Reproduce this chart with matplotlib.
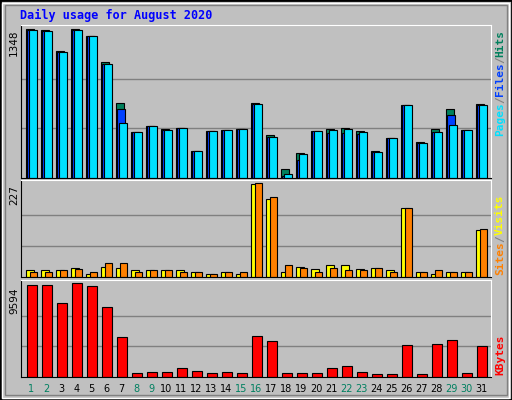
import matplotlib
matplotlib.use("Agg")
import matplotlib.pyplot as plt
from matplotlib.patches import Rectangle
import numpy as np

days = list(range(1, 32))
weekend = [1, 2, 8, 9, 15, 16, 22, 23, 29, 30]
hits = [1348, 1339, 1155, 1348, 1284, 1055, 679, 413, 468, 444, 450, 248, 422, 431, 440, 679, 394, 82, 229, 422, 444, 450, 422, 248, 367, 661, 330, 444, 624, 431, 670]
files = [1339, 1330, 1146, 1339, 1284, 1037, 624, 413, 468, 431, 450, 248, 422, 431, 440, 670, 376, 21, 165, 422, 404, 404, 395, 239, 367, 661, 321, 413, 569, 431, 661]
pages = [1339, 1330, 1146, 1339, 1284, 1037, 496, 413, 468, 431, 450, 248, 422, 431, 440, 670, 376, 37, 220, 422, 431, 440, 413, 239, 367, 661, 321, 413, 477, 431, 661]
visits = [16, 16, 18, 23, 8, 25, 23, 18, 18, 16, 16, 13, 8, 13, 8, 225, 190, 13, 25, 20, 28, 30, 20, 23, 18, 166, 11, 8, 13, 13, 115]
sites = [13, 13, 16, 20, 11, 33, 33, 13, 18, 18, 13, 13, 8, 13, 11, 227, 195, 28, 23, 11, 23, 18, 18, 23, 13, 166, 13, 16, 13, 13, 117]
kbytes = [9594, 9594, 7804, 9809, 9487, 7338, 4224, 465, 573, 573, 895, 680, 465, 573, 465, 4332, 3795, 465, 465, 465, 895, 1109, 573, 358, 358, 3364, 358, 3472, 3902, 465, 3257]

W, H = 512, 400
fig = plt.figure(figsize=(5.12, 4.0), dpi=100)
fig.patch.set_facecolor("#C0C0C0")
# bevel frame
fig.add_artist(Rectangle((0, 0), 1, 1, transform=fig.transFigure, fill=False, ec="black", lw=2))
fig.add_artist(Rectangle((2/W, 2/H), 1-5/W, 1-5/H, transform=fig.transFigure, fill=False, ec="white", lw=1))
fig.add_artist(Rectangle((5/W, 5/H), 1-10/W, 1-10/H, transform=fig.transFigure, fill=False, ec="#808080", lw=1))

mono = "DejaVu Sans Mono"
fig.text(20/W, 1-15/H, "Daily usage for August 2020", color="#0000FF", fontsize=8.5,
         fontweight="bold", family=mono, va="center", ha="left")

def mkax(top, bottom):
    ax = fig.add_axes([21/W, 1-bottom/H, 470/W, (bottom-top)/H])
    ax.set_facecolor("#C0C0C0")
    ax.set_xlim(0.31, 31.64)
    for s in ["left", "bottom"]:
        ax.spines[s].set_color("black")
    for s in ["top", "right"]:
        ax.spines[s].set_color("white")
    ax.set_xticks([])
    ax.set_yticks([])
    return ax

x = np.array(days)
bk = dict(edgecolor="black", linewidth=0.8, align="edge")

def grid(ax, m):
    for f in (1/3, 2/3):
        ax.axhline(m*f, color="#808080", lw=1, zorder=0)

ax1 = mkax(25, 178)
ax1.set_ylim(0, 1387)
grid(ax1, 1348)
ax1.bar(x-0.38, hits, 0.53, color="#00805C", **bk)
ax1.bar(x-0.28, files, 0.53, color="#0040FF", **bk)
ax1.bar(x-0.18, pages, 0.53, color="#00E0FF", **bk)

ax2 = mkax(180, 277)
ax2.set_ylim(0, 235)
grid(ax2, 227)
ax2.bar(x-0.35, visits, 0.5, color="#FFFF00", **bk)
ax2.bar(x-0.12, sites, 0.5, color="#FF8000", **bk)

ax3 = mkax(280, 377)
ax3.set_ylim(0, 10161)
grid(ax3, 9594)
ax3.bar(x-0.29, kbytes, 0.66, color="#FF0000", **bk)

for lbl, ytop in [("1348", 29), ("227", 185), ("9594", 287)]:
    fig.text(14/W, 1-ytop/H, lbl, rotation=90, ha="center", va="top", fontsize=7.5, family="DejaVu Sans")

def rlabel(parts, ybottom):
    y = ybottom
    for t, c in parts:
        fig.text(500/W, 1-y/H, t, rotation=90, ha="center", va="bottom", color=c,
                 fontsize=8, family=mono, fontweight="bold")
        y -= len(t)*6.6
rlabel([("Pages", "#00E0FF"), ("/", "#808080"), ("Files", "#0040FF"), ("/", "#808080"), ("Hits", "#00805C")], 136)
rlabel([("Sites", "#FF8000"), ("/", "#808080"), ("Visits", "#FFFF00")], 275)
rlabel([("KBytes", "#FF0000")], 375)

for d in days:
    xp = 21 + (d - 0.31) / 31.33 * 470
    fig.text(xp/W, 1-389/H, str(d), ha="center", va="center", fontsize=7,
             color="#008060" if d in weekend else "black", family="DejaVu Sans")

fig.savefig("out.png", dpi=100, facecolor=fig.get_facecolor())
